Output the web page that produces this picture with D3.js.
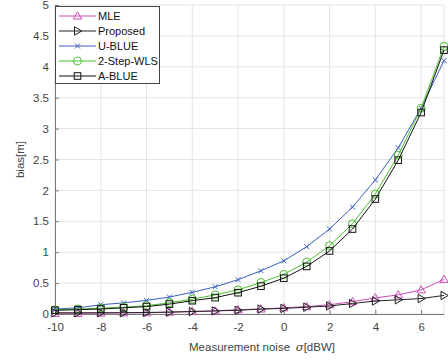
<!DOCTYPE html>
<html>
<head>
<meta charset="utf-8">
<script src="https://cdn.jsdelivr.net/npm/d3@7"></script>
<style>
  body { margin: 0; background: #fff; }
  text { font-family: "Liberation Sans", Arial, sans-serif; }
</style>
</head>
<body>
<script>
const noise = [-10, -9, -8, -7, -6, -5, -4, -3, -2, -1, 0, 1, 2, 3, 4, 5, 6, 7];
const mle      = [0.01, 0.01, 0.015, 0.02, 0.02, 0.03, 0.04, 0.05, 0.07, 0.08, 0.10, 0.12, 0.15, 0.20, 0.26, 0.31, 0.39, 0.56];
const proposed = [0.02, 0.02, 0.02, 0.02, 0.025, 0.03, 0.04, 0.05, 0.06, 0.08, 0.09, 0.11, 0.13, 0.17, 0.21, 0.23, 0.25, 0.30];
const ublue    = [0.08, 0.10, 0.15, 0.18, 0.22, 0.275, 0.35, 0.44, 0.555, 0.70, 0.86, 1.09, 1.375, 1.73, 2.17, 2.69, 3.33, 4.10];
const wls2     = [0.07, 0.08, 0.095, 0.11, 0.135, 0.18, 0.24, 0.31, 0.39, 0.51, 0.64, 0.84, 1.105, 1.46, 1.94, 2.57, 3.33, 4.33];
const ablue    = [0.06, 0.07, 0.08, 0.10, 0.12, 0.16, 0.215, 0.265, 0.345, 0.45, 0.58, 0.77, 1.02, 1.375, 1.86, 2.49, 3.26, 4.27];
const xTicks = [-10, -8, -6, -4, -2, 0, 2, 4, 6];
const yTicks = [0, 0.5, 1, 1.5, 2, 2.5, 3, 3.5, 4, 4.5, 5];

const series = [
  { name: 'MLE', values: mle, color: '#c94bb5', marker: 'tri-up' },
  { name: 'Proposed', values: proposed, color: '#222', marker: 'tri-right' },
  { name: 'U-BLUE', values: ublue, color: '#3b5fc0', marker: 'cross' },
  { name: '2-Step-WLS', values: wls2, color: '#4cbf2e', marker: 'circle' },
  { name: 'A-BLUE', values: ablue, color: '#111', marker: 'square' }
];

const width = 448, height = 360;
const margin = { top: 5, right: 4, bottom: 46, left: 55 };

const svg = d3.select('body').append('svg')
  .attr('width', width)
  .attr('height', height);

const x = d3.scaleLinear().domain([-10, 7]).range([margin.left, width - margin.right]);
const y = d3.scaleLinear().domain([0, 5]).range([height - margin.bottom, margin.top]);

// grid
svg.append('g').selectAll('line.vx')
  .data(xTicks.concat([7])).enter().append('line')
  .attr('x1', d => x(d)).attr('x2', d => x(d))
  .attr('y1', y(0)).attr('y2', y(5))
  .attr('stroke', '#e4e4e4').attr('stroke-width', 1);
svg.append('g').selectAll('line.hy')
  .data(yTicks).enter().append('line')
  .attr('x1', x(-10)).attr('x2', x(7))
  .attr('y1', d => y(d)).attr('y2', d => y(d))
  .attr('stroke', '#e4e4e4').attr('stroke-width', 1);

// axes
const xAxis = svg.append('g')
  .attr('transform', `translate(0,${y(0)})`)
  .call(d3.axisBottom(x).tickValues(xTicks).tickSizeInner(-4).tickSizeOuter(0).tickPadding(9)
    .tickFormat(d => String(d)));
const yAxis = svg.append('g')
  .attr('transform', `translate(${x(-10)},0)`)
  .call(d3.axisLeft(y).tickValues(yTicks).tickSizeInner(-4).tickSizeOuter(0).tickPadding(6)
    .tickFormat(d => String(d)));
[xAxis, yAxis].forEach(a => {
  a.select('.domain').attr('stroke', '#7a7a7a');
  a.selectAll('.tick line').attr('stroke', '#7a7a7a');
  a.selectAll('.tick text').attr('fill', '#444').style('font-size', '11.5px')
    .style('font-family', '"Liberation Sans", Arial, sans-serif');
});

// labels
const xl = svg.append('text')
  .attr('x', 262)
  .attr('y', 351)
  .attr('text-anchor', 'middle')
  .attr('fill', '#444')
  .style('font-size', '11.5px');
xl.append('tspan').text('Measurement noise\u2002');
xl.append('tspan').attr('font-style', 'italic').attr('font-family', '"DejaVu Serif", serif').text('σ');
xl.append('tspan').text('[dBW]');

svg.append('text')
  .attr('transform', `translate(24,${y(2.5)}) rotate(-90)`)
  .attr('text-anchor', 'middle')
  .attr('fill', '#444')
  .style('font-size', '11.5px')
  .text('bias[m]');

function drawMarker(g, type, color) {
  const s = 3.6;
  if (type === 'tri-up') {
    g.append('path').attr('d', `M0,${-s - 0.6}L${s + 0.6},${s - 0.6}L${-s - 0.6},${s - 0.6}Z`)
      .attr('fill', 'none').attr('stroke', color);
  } else if (type === 'tri-right') {
    g.append('path').attr('d', `M${s + 0.6},0L${-s + 0.6},${-s - 0.6}L${-s + 0.6},${s + 0.6}Z`)
      .attr('fill', 'none').attr('stroke', color);
  } else if (type === 'cross') {
    g.append('path').attr('d', 'M-2.5,-2.5L2.5,2.5M-2.5,2.5L2.5,-2.5')
      .attr('stroke', color);
  } else if (type === 'circle') {
    g.append('circle').attr('r', 4).attr('fill', 'none').attr('stroke', color);
  } else if (type === 'square') {
    g.append('rect').attr('x', -3.3).attr('y', -3.3).attr('width', 6.6).attr('height', 6.6)
      .attr('fill', 'none').attr('stroke', color);
  }
}

const line = d3.line().x((d, i) => x(noise[i])).y(d => y(d));

const plot = svg.append('g');
series.forEach(s => {
  plot.append('path')
    .datum(s.values)
    .attr('fill', 'none')
    .attr('stroke', s.color)
    .attr('stroke-width', 1)
    .attr('d', line);
  s.values.forEach((v, i) => {
    const g = plot.append('g').attr('transform', `translate(${x(noise[i])},${y(v)})`);
    drawMarker(g, s.marker, s.color);
  });
});

// legend
const lg = svg.append('g').attr('transform', `translate(${x(-10)},${margin.top + 1})`);
lg.append('rect')
  .attr('x', 0.5).attr('y', 0.5)
  .attr('width', 104).attr('height', 77)
  .attr('fill', '#fff').attr('stroke', '#444').attr('stroke-width', 1);
series.forEach((s, i) => {
  const yy = 10 + i * 15;
  lg.append('line').attr('x1', 4).attr('x2', 41).attr('y1', yy).attr('y2', yy)
    .attr('stroke', s.color);
  drawMarker(lg.append('g').attr('transform', `translate(22.5,${yy})`), s.marker, s.color);
  lg.append('text').attr('x', 43).attr('y', yy + 4)
    .attr('fill', '#111').style('font-size', '11px').text(s.name);
});
</script>
</body>
</html>
